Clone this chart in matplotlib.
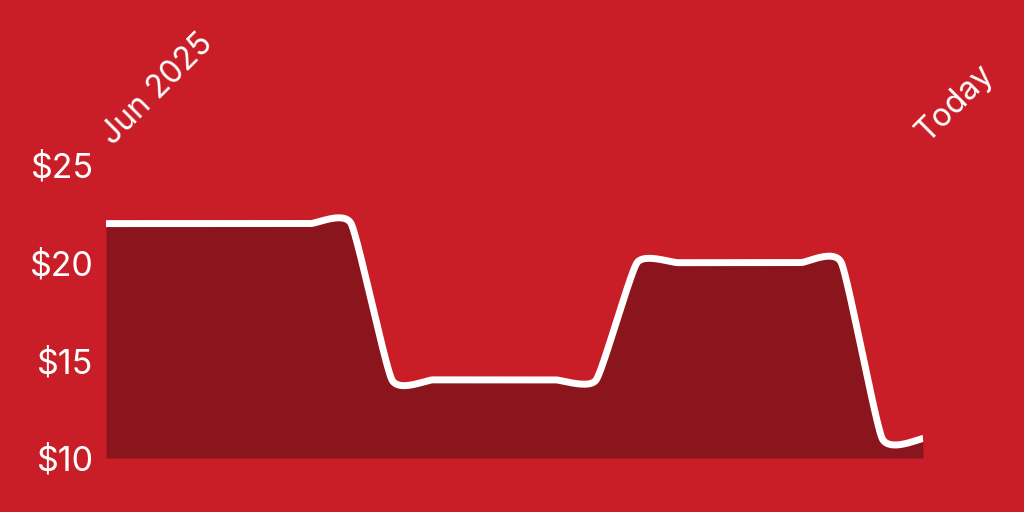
import numpy as np
import matplotlib
matplotlib.use("Agg")
import matplotlib.pyplot as plt

# data
prices = [22, 22, 22, 22, 22, 22, 22,
          14, 14, 14, 14, 14, 14,
          20, 20, 20, 20, 20, 20,
          11, 11]
y_ticks = [10, 15, 20, 25]
y_tick_labels = ["$10", "$15", "$20", "$25"]
x_labels = ["Jun 2025", "Today"]

BG = "#C91E27"
FILL = "#8B151C"
WHITE = "#FFFFFF"


def cardinal(xs, ys, tension=0.5, n=40):
    xs = np.asarray(xs, float)
    ys = np.asarray(ys, float)
    px = np.concatenate([[xs[0]], xs, [xs[-1]]])
    py = np.concatenate([[ys[0]], ys, [ys[-1]]])
    k = (1 - tension) / 6.0
    outx, outy = [], []
    t = np.linspace(0, 1, n)
    for i in range(1, len(px) - 2):
        x0, x1, x2, x3 = px[i - 1], px[i], px[i + 1], px[i + 2]
        y0, y1, y2, y3 = py[i - 1], py[i], py[i + 1], py[i + 2]
        c1x, c1y = x1 + k * (x2 - x0), y1 + k * (y2 - y0)
        c2x, c2y = x2 - k * (x3 - x1), y2 - k * (y3 - y1)
        b0 = (1 - t) ** 3
        b1 = 3 * (1 - t) ** 2 * t
        b2 = 3 * (1 - t) * t ** 2
        b3 = t ** 3
        bx = b0 * x1 + b1 * c1x + b2 * c2x + b3 * x2
        by = b0 * y1 + b1 * c1y + b2 * c2y + b3 * y2
        if i > 1:
            bx, by = bx[1:], by[1:]
        outx.append(bx)
        outy.append(by)
    return np.concatenate(outx), np.concatenate(outy)


plt.rcParams['font.family'] = ['Inter', 'DejaVu Sans']

W, H = 1024, 512
fig = plt.figure(figsize=(W / 100, H / 100), dpi=100, facecolor=BG)
left, right, top, bottom = 106, 923, 165, 458
ax = fig.add_axes([left / W, 1 - bottom / H, (right - left) / W, (bottom - top) / H])
ax.set_facecolor(BG)

x = np.arange(len(prices))
sx, sy = cardinal(x, prices, tension=0.5)
ax.fill_between(sx, 10, sy, color=FILL, lw=0, clip_on=False)
ax.plot(sx, sy, color=WHITE, lw=5.0, solid_capstyle='butt', solid_joinstyle='round', clip_on=False)

ax.set_xlim(0, len(prices) - 1)
ax.set_ylim(10, 25)
for s in ax.spines.values():
    s.set_visible(False)
ax.set_xticks([])
ax.set_yticks(y_ticks)
ax.set_yticklabels(y_tick_labels, color=WHITE, fontsize=24.5)
ax.tick_params(axis='y', length=0, pad=9)

# rotated date labels at top
ax.annotate(x_labels[0], xy=(0, 1 - 146 / H), xycoords=('data', 'figure fraction'),
            xytext=(7, 0), textcoords='offset pixels', rotation=45,
            rotation_mode='anchor', ha='left', va='baseline', color=WHITE,
            fontsize=23, annotation_clip=False)
ax.annotate(x_labels[1], xy=(len(prices) - 1, 1 - 143 / H), xycoords=('data', 'figure fraction'),
            xytext=(5, 0), textcoords='offset pixels', rotation=45,
            rotation_mode='anchor', ha='left', va='baseline', color=WHITE,
            fontsize=23, annotation_clip=False)

fig.savefig("out.png", dpi=100, facecolor=BG)
